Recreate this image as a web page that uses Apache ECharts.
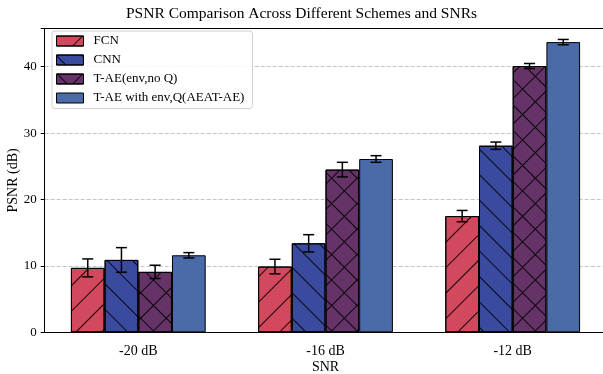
<!DOCTYPE html>
<html>
<head>
<meta charset="utf-8">
<script src="https://cdn.jsdelivr.net/npm/echarts@6/dist/echarts.min.js"></script>
<style>
  html, body { margin: 0; padding: 0; background: #fff; }
  #chart { width: 603px; height: 374px; }
</style>
</head>
<body>
<div id="chart"></div>
<script>
// SNR levels on the x axis
const snrLabels = ['-20 dB', '-16 dB', '-12 dB'];

// Scheme names (legend order)
const schemeNames = ['FCN', 'CNN', 'T-AE(env,no Q)', 'T-AE with env,Q(AEAT-AE)'];

// Mean PSNR (dB) per scheme, one value per SNR level
const fcnPsnr   = [9.7, 9.9, 17.5];
const cnnPsnr   = [10.9, 13.4, 28.1];
const taeNoQ    = [9.1, 24.5, 40.1];
const aeatPsnr  = [11.6, 26.1, 43.7];

// Error bar half-widths (dB)
const fcnErr  = [1.35, 1.1, 0.85];
const cnnErr  = [1.85, 1.3, 0.55];
const taeErr  = [1.0, 1.1, 0.38];
const aeatErr = [0.4, 0.5, 0.4];

// y axis tick values
const yTicks = [0, 10, 20, 30, 40];

const means = [fcnPsnr, cnnPsnr, taeNoQ, aeatPsnr];
const errs = [fcnErr, cnnErr, taeErr, aeatErr];

const colors = ['#d2495d', '#3a4b9f', '#663369', '#4a6aa8'];
const hatchColor = 'rgba(0,0,0,0.9)';

// hatch patterns: '/', '\', 'x', none
const singleRow = Array.from({ length: 17 }, () => [1, 17]);
const hatches = [
  { symbol: 'rect', symbolSize: 1, dashArrayX: [1, 0], dashArrayY: [1, 17], rotation: -Math.PI / 4, color: hatchColor },
  { symbol: 'rect', symbolSize: 1, dashArrayX: [1, 0], dashArrayY: [1, 17], rotation: Math.PI / 4, color: hatchColor },
  { symbol: 'rect', symbolSize: 1, dashArrayX: [[1, 0]].concat(singleRow), dashArrayY: [1, 0], rotation: Math.PI / 4, color: hatchColor },
  null
];

const BAR_FRAC = 0.18;
const serif = 'Liberation Serif';

const barSeries = schemeNames.map((name, s) => {
  const style = { color: colors[s], borderColor: '#000', borderWidth: 1 };
  if (hatches[s]) style.decal = hatches[s];
  return {
    name: name,
    type: 'bar',
    data: means[s],
    barWidth: (BAR_FRAC * 100) + '%',
    barGap: '0%',
    itemStyle: style,
    z: 2
  };
});

const errData = [];
means.forEach((arr, s) => arr.forEach((v, i) => errData.push([i, v, errs[s][i], s])));

const errorSeries = {
  type: 'custom',
  name: 'error',
  z: 5,
  silent: true,
  encode: { x: 0, y: 1 },
  data: errData,
  renderItem: function (params, api) {
    const i = api.value(0), v = api.value(1), e = api.value(2), s = api.value(3);
    const band = api.size([1, 0])[0];
    const bw = band * BAR_FRAC;
    const x = api.coord([i, v])[0] + (s - 1.5) * bw;
    const yHi = api.coord([i, v + e])[1];
    const yLo = api.coord([i, v - e])[1];
    const cap = 5.5;
    const st = { stroke: '#000', lineWidth: 1.5 };
    return {
      type: 'group',
      children: [
        { type: 'line', shape: { x1: x, y1: yHi, x2: x, y2: yLo }, style: st },
        { type: 'line', shape: { x1: x - cap, y1: yHi, x2: x + cap, y2: yHi }, style: st },
        { type: 'line', shape: { x1: x - cap, y1: yLo, x2: x + cap, y2: yLo }, style: st }
      ]
    };
  }
};

const chart = echarts.init(document.getElementById('chart'), null, { renderer: 'canvas' });

const gridTop = 28.5, gridLeft = 44.7, gridBottom = 41.7;

chart.setOption({
  animation: false,
  backgroundColor: '#fff',
  title: {
    text: 'PSNR Comparison Across Different Schemes and SNRs',
    left: 'center',
    top: 1,
    textStyle: { fontFamily: serif, fontSize: 15.5, fontWeight: 'normal', color: '#000' }
  },
  legend: {
    data: schemeNames,
    orient: 'vertical',
    left: 52,
    top: 31,
    padding: [3.5, 8, 4, 4],
    itemGap: 6,
    itemWidth: 27,
    itemHeight: 10,
    icon: 'rect',
    itemStyle: { borderWidth: 1, borderColor: '#000' },
    backgroundColor: 'rgba(255,255,255,0.85)',
    borderColor: '#cfcfcf',
    borderWidth: 1,
    borderRadius: 3,
    textStyle: { fontFamily: serif, fontSize: 13, color: '#000', padding: [0, 0, 0, 5] }
  },
  grid: { left: gridLeft, top: gridTop, bottom: gridBottom, right: -3.3, outerBoundsMode: 'none' },
  xAxis: {
    type: 'category',
    data: snrLabels,
    name: 'SNR',
    nameLocation: 'middle',
    nameGap: 28.5,
    nameMoveOverlap: false,
    nameTextStyle: { fontFamily: serif, fontSize: 14, color: '#000' },
    axisLine: { lineStyle: { color: '#000', width: 1 } },
    axisTick: { alignWithLabel: true, length: 4, lineStyle: { color: '#000' } },
    axisLabel: { fontFamily: serif, fontSize: 14, color: '#000', margin: 12 },
    splitLine: { show: false }
  },
  yAxis: {
    type: 'value',
    min: 0,
    max: 45.75,
    interval: 10,
    name: 'PSNR (dB)',
    nameLocation: 'middle',
    nameGap: 24,
    nameMoveOverlap: false,
    nameTextStyle: { fontFamily: serif, fontSize: 14, color: '#000' },
    axisLine: { show: true, lineStyle: { color: '#000', width: 1 } },
    axisTick: { show: true, length: 4, lineStyle: { color: '#000' } },
    axisLabel: {
      fontFamily: serif, fontSize: 13, color: '#000', margin: 8,
      formatter: function (v) { return yTicks.indexOf(v) >= 0 ? String(v) : ''; }
    },
    splitLine: { show: true, lineStyle: { color: '#c4c4c4', type: [4, 2], width: 1 } }
  },
  graphic: [
    { type: 'line', shape: { x1: gridLeft, y1: gridTop, x2: 603, y2: gridTop }, style: { stroke: '#000', lineWidth: 1 }, z: 10 }
  ],
  series: barSeries.concat([errorSeries])
});
</script>
</body>
</html>
